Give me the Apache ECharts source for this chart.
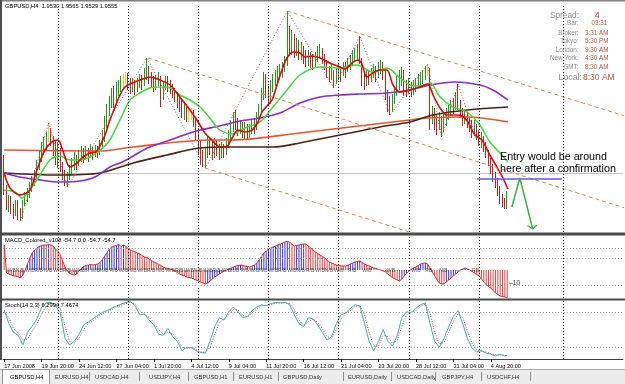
<!DOCTYPE html>
<html><head><meta charset="utf-8">
<script src="https://cdn.jsdelivr.net/npm/echarts@6/dist/echarts.min.js"></script>
<style>html,body{margin:0;padding:0;background:#fff;}#c{width:625px;height:384px;}</style>
</head><body><div id="c"></div>
<script>
// ---------------- DATA ----------------
const firstOpen = 1.9627;
const closes = [1.9567,1.9537,1.9551,1.9531,1.9519,1.9541,1.9523,1.9515,1.9539,1.9551,
1.9555,1.9571,1.9581,1.9595,1.9611,1.9631,1.9647,1.9655,1.9671,1.9681,
1.9667,1.9651,1.9631,1.9647,1.9615,1.9597,1.9583,1.9595,1.9607,1.9615,
1.9627,1.9619,1.9633,1.9641,1.9631,1.9643,1.9637,1.9647,1.9639,1.9647,
1.9643,1.9655,1.9671,1.9697,1.9723,1.9739,1.9755,1.9747,1.9767,1.9775,
1.9783,1.9789,1.9791,1.9783,1.9771,1.9779,1.9767,1.9777,1.9787,1.9781,
1.9795,1.9807,1.9791,1.9783,1.9775,1.9787,1.9791,1.9755,1.9775,1.9787,
1.9779,1.9771,1.9763,1.9755,1.9747,1.9737,1.9727,1.9731,1.9719,1.9715,
1.9721,1.9707,1.9687,1.9657,1.9631,1.9623,1.9643,1.9657,1.9651,1.9639,
1.9655,1.9647,1.9637,1.9651,1.9643,1.9657,1.9671,1.9691,1.9707,1.9699,
1.9687,1.9695,1.9683,1.9691,1.9679,1.9687,1.9695,1.9691,1.9711,1.9723,
1.9757,1.9795,1.9767,1.9747,1.9771,1.9783,1.9791,1.9799,1.9803,1.9811,
1.9819,1.9879,1.9851,1.9867,1.9843,1.9857,1.9837,1.9847,1.9831,1.9823,
1.9835,1.9827,1.9819,1.9831,1.9843,1.9847,1.9831,1.9819,1.9807,1.9795,
1.9803,1.9787,1.9795,1.9803,1.9799,1.9811,1.9807,1.9819,1.9823,1.9831,
1.9837,1.9843,1.9827,1.9791,1.9779,1.9795,1.9787,1.9799,1.9807,1.9795,
1.9807,1.9815,1.9803,1.9763,1.9739,1.9731,1.9747,1.9763,1.9779,1.9787,
1.9799,1.9775,1.9767,1.9779,1.9763,1.9771,1.9779,1.9787,1.9791,1.9795,
1.9803,1.9807,1.9707,1.9723,1.9703,1.9691,1.9711,1.9687,1.9703,1.9715,
1.9723,1.9735,1.9731,1.9747,1.9739,1.9723,1.9711,1.9717,1.9703,1.9695,
1.9687,1.9695,1.9679,1.9667,1.9671,1.9655,1.9643,1.9627,1.9611,1.9595,
1.9583,1.9567,1.9551,1.9539,1.9530,1.9555];
const highs = [1.9637,1.9577,1.9557,1.9555,1.9539,1.9547,1.9547,1.9531,1.9547,1.9563,
1.9571,1.9583,1.9595,1.9607,1.9627,1.9647,1.9663,1.9673,1.9683,1.9701,
1.9691,1.9675,1.9667,1.9663,1.9651,1.9623,1.9607,1.9603,1.9617,1.9631,
1.9643,1.9637,1.9647,1.9655,1.9651,1.9655,1.9651,1.9659,1.9653,1.9657,
1.9655,1.9667,1.9687,1.9715,1.9739,1.9755,1.9771,1.9775,1.9783,1.9787,
1.9795,1.9799,1.9803,1.9801,1.9791,1.9791,1.9787,1.9791,1.9799,1.9797,
1.9811,1.9831,1.9815,1.9803,1.9795,1.9797,1.9803,1.9795,1.9783,1.9795,
1.9795,1.9787,1.9779,1.9771,1.9763,1.9755,1.9747,1.9743,1.9739,1.9731,
1.9731,1.9727,1.9711,1.9691,1.9667,1.9647,1.9651,1.9675,1.9671,1.9663,
1.9671,1.9667,1.9659,1.9663,1.9659,1.9671,1.9687,1.9707,1.9723,1.9727,
1.9711,1.9707,1.9703,1.9703,1.9699,1.9699,1.9707,1.9711,1.9723,1.9739,
1.9771,1.9803,1.9799,1.9775,1.9787,1.9799,1.9807,1.9815,1.9819,1.9823,
1.9835,1.9925,1.9895,1.9887,1.9879,1.9871,1.9867,1.9863,1.9855,1.9847,
1.9847,1.9843,1.9839,1.9843,1.9855,1.9859,1.9851,1.9839,1.9827,1.9815,
1.9819,1.9807,1.9811,1.9819,1.9815,1.9823,1.9823,1.9831,1.9837,1.9847,
1.9851,1.9859,1.9875,1.9831,1.9803,1.9807,1.9807,1.9811,1.9819,1.9815,
1.9823,1.9827,1.9823,1.9807,1.9767,1.9755,1.9759,1.9775,1.9795,1.9807,
1.9813,1.9807,1.9787,1.9791,1.9783,1.9787,1.9791,1.9799,1.9803,1.9807,
1.9815,1.9819,1.9811,1.9735,1.9731,1.9717,1.9723,1.9715,1.9719,1.9731,
1.9739,1.9747,1.9751,1.9763,1.9779,1.9747,1.9731,1.9727,1.9723,1.9711,
1.9707,1.9707,1.9699,1.9687,1.9683,1.9675,1.9663,1.9647,1.9631,1.9619,
1.9603,1.9591,1.9575,1.9559,1.9551,1.9565];
const lows = [1.9557,1.9527,1.9523,1.9519,1.9509,1.9515,1.9507,1.9505,1.9509,1.9535,
1.9543,1.9551,1.9563,1.9575,1.9587,1.9607,1.9623,1.9637,1.9647,1.9663,
1.9655,1.9635,1.9617,1.9611,1.9603,1.9587,1.9575,1.9573,1.9587,1.9599,
1.9607,1.9607,1.9615,1.9623,1.9621,1.9627,1.9623,1.9631,1.9627,1.9633,
1.9631,1.9637,1.9651,1.9663,1.9691,1.9715,1.9731,1.9731,1.9739,1.9755,
1.9763,1.9771,1.9779,1.9767,1.9759,1.9763,1.9757,1.9763,1.9771,1.9767,
1.9775,1.9787,1.9779,1.9771,1.9763,1.9767,1.9775,1.9733,1.9747,1.9767,
1.9763,1.9759,1.9751,1.9743,1.9731,1.9723,1.9711,1.9707,1.9703,1.9703,
1.9707,1.9693,1.9667,1.9637,1.9617,1.9613,1.9611,1.9631,1.9637,1.9627,
1.9631,1.9635,1.9627,1.9631,1.9631,1.9637,1.9651,1.9667,1.9683,1.9687,
1.9675,1.9679,1.9671,1.9667,1.9667,1.9671,1.9679,1.9679,1.9687,1.9703,
1.9719,1.9747,1.9751,1.9735,1.9739,1.9763,1.9775,1.9779,1.9787,1.9791,
1.9803,1.9815,1.9835,1.9837,1.9831,1.9835,1.9827,1.9827,1.9819,1.9813,
1.9815,1.9811,1.9807,1.9811,1.9823,1.9831,1.9819,1.9807,1.9791,1.9783,
1.9787,1.9771,1.9779,1.9787,1.9783,1.9795,1.9791,1.9803,1.9807,1.9815,
1.9823,1.9827,1.9819,1.9775,1.9767,1.9775,1.9777,1.9783,1.9791,1.9783,
1.9791,1.9799,1.9787,1.9747,1.9723,1.9717,1.9723,1.9739,1.9755,1.9767,
1.9775,1.9755,1.9753,1.9759,1.9753,1.9757,1.9763,1.9771,1.9775,1.9779,
1.9787,1.9795,1.9687,1.9699,1.9687,1.9677,1.9687,1.9673,1.9683,1.9695,
1.9707,1.9715,1.9719,1.9727,1.9727,1.9711,1.9695,1.9699,1.9691,1.9683,
1.9671,1.9675,1.9667,1.9655,1.9651,1.9643,1.9631,1.9615,1.9599,1.9583,
1.9571,1.9555,1.9539,1.9533,1.9529,1.9529];
const yellowBars = [19, 51, 52, 79, 80, 181];
const bidPrice = 1.9555;

const tickLabels = ['17 Jun 2008','19 Jun 20:00','24 Jun 12:00','27 Jun 04:00','1 Jul 20:00','4 Jul 12:00','9 Jul 04:00','11 Jul 20:00','16 Jul 12:00','21 Jul 04:00','23 Jul 20:00','28 Jul 12:00','31 Jul 04:00','4 Aug 20:00'];
const gridBars = [23, 53, 83, 113, 143, 173, 203, 239];

// moving averages as [bar, price]
const redMA = [[0,1.9601],[2.5,1.9571],[6.8,1.9557],[11,1.9567],[14,1.9607],[17.4,1.9647],[20.4,1.9663],[23,1.9667],[24.7,1.9651],[26.4,1.9627],[28.1,1.9613],[31.1,1.9621],[33.7,1.9633],[36.7,1.9641],[39.2,1.9643],[40.9,1.9655],[43.1,1.9677],[45.2,1.9707],[47.4,1.9733],[49.5,1.9757],[51.6,1.9773],[53.8,1.9779],[58,1.9787],[62.3,1.9793],[66.6,1.9787],[70.9,1.9777],[75.1,1.9753],[79.4,1.9727],[82.4,1.9707],[85.8,1.9681],[88.8,1.9667],[92.2,1.9653],[94.8,1.9653],[97.4,1.9671],[99.9,1.9687],[102.9,1.9683],[105.9,1.9687],[108.5,1.9703],[110.2,1.9723],[112.3,1.9735],[114.5,1.9747],[116.6,1.9777],[118.7,1.9807],[120.9,1.9831],[123.4,1.9843],[126.4,1.9841],[128.6,1.9833],[131.6,1.9835],[135,1.9831],[139.2,1.9821],[143.5,1.9813],[145.7,1.9809],[148.7,1.9821],[151.2,1.9827],[152.9,1.9819],[155,1.9793],[157.6,1.9801],[160.6,1.9807],[163.6,1.9807],[166.2,1.9777],[169.2,1.9763],[173.4,1.9767],[177.7,1.9773],[181.1,1.9779],[183.3,1.9757],[186.3,1.9731],[189.2,1.9717],[192.7,1.9717],[195.7,1.9715],[198.2,1.9703],[201.2,1.9677],[204.2,1.9667],[207.6,1.9637],[210.6,1.9613],[213.2,1.9591],[215.3,1.9569]];
const greenMA = [[0,1.9567],[4.6,1.9563],[7.6,1.9551],[11,1.9567],[15.3,1.9597],[19.6,1.9627],[23.9,1.9635],[28.1,1.9627],[32.4,1.9627],[36.7,1.9633],[40.1,1.9643],[43.1,1.9655],[45.2,1.9667],[47.4,1.9687],[49.5,1.9707],[53.8,1.9747],[58,1.9761],[62.3,1.9771],[66.6,1.9773],[70.9,1.9771],[75.1,1.9757],[79.4,1.9747],[83.7,1.9733],[87.9,1.9711],[92.2,1.9687],[97.8,1.9679],[102.9,1.9691],[109.3,1.9703],[114.9,1.9733],[120.9,1.9767],[126.4,1.9797],[135,1.9813],[143.5,1.9811],[150.8,1.9817],[157.6,1.9803],[163.6,1.9811],[169.2,1.9791],[173.4,1.9777],[177.7,1.9775],[182,1.9781],[186.3,1.9753],[191.8,1.9733],[197.8,1.9723],[203.3,1.9697],[207.6,1.9663],[211.9,1.9641],[215.3,1.9623]];
const purpleMA = [[0,1.9601],[6.8,1.9593],[15.3,1.9587],[23.9,1.9583],[32.4,1.9585],[38.8,1.9593],[45.2,1.9613],[49.5,1.9621],[53.8,1.9631],[58,1.9643],[62.3,1.9653],[70.9,1.9667],[79.4,1.9681],[83.7,1.9687],[92.2,1.9695],[100.8,1.9705],[109.3,1.9711],[117.9,1.9721],[126.4,1.9741],[135,1.9753],[143.5,1.9757],[152,1.9759],[163.6,1.9761],[173.4,1.9767],[182,1.9777],[192.7,1.9783],[203.3,1.9777],[208.9,1.9767],[215.3,1.9747]];
const brownMA = [[0,1.9601],[22.6,1.9597],[40.9,1.9601],[55.1,1.9621],[69.6,1.9637],[83.7,1.9651],[97.8,1.9653],[114.9,1.9653],[126.4,1.9661],[143.5,1.9677],[160.6,1.9693],[173.4,1.9703],[183.3,1.9717],[197.8,1.9727],[215.3,1.9733]];
const orangeMA = [[0,1.9647],[40.9,1.9645],[55.1,1.9653],[87.9,1.9667],[97.8,1.9667],[126.4,1.9681],[173.4,1.9707],[180.7,1.9711],[197.8,1.9713],[215.3,1.9703]];

// drawn objects
const zigzag = [[7,1.9505],[19,1.9701],[27,1.9573],[61,1.9831],[86,1.9611],[121,1.9925],[141,1.9771],[152,1.9875],[165,1.9717],[181,1.9819],[187,1.9673],[194,1.9779],[202,1.9667]];
const channelUpper = [[120.9,1.9925],[265.3,1.9715]];
const channelMiddle = [[61.5,1.9831],[265.3,1.9531]];
const channelLower = [[85.8,1.9611],[265.3,1.9348]];
const entryLine = [[202.1,1.9589],[238.4,1.9589]];
const arrowPath = [[217,1.9533],[220.4,1.9591],[225.9,1.9489]];
const arrowHead = [[223.7,1.9496],[225.9,1.9489],[227.6,1.9497]];

// MACD histogram, one per bar
const macdHist = [50,-6,-8,-10,-12,-12,-14,-16,-10,0,
12,24,34,40,44,47,49,50,50,51,
50,48,42,37,30,18,6,-2,-7,-9,
-10,-8,-2,3,7,9,10,11,10,11,
12,15,21,28,35,42,46,48,49,51,
47,50,47,43,40,38,36,34,32,29,
26,25,22,19,16,14,11,9,6,4,
3,2,0,-2,-5,-8,-10,-12,-14,-15,
-16,-18,-20,-22,-24,-26,-28,-26,-22,-18,
-14,-11,-8,-5,-2,0,2,4,6,8,
9,10,9,8,7,6,8,10,14,20,
27,34,38,42,44,46,48,50,52,54,
56,57,56,52,48,49,50,51,52,52,
48,44,40,36,33,30,27,24,20,16,
14,12,10,9,8,8,8,10,12,14,
16,17,18,15,12,10,8,6,4,3,
1,0,-2,-4,-8,-12,-15,-18,-20,-22,
-18,-12,-7,-2,1,4,6,9,12,13,
14,12,4,-4,-12,-20,-26,-28,-28,-24,
-20,-16,-12,-8,-4,0,2,4,2,0,
-3,-6,-9,-12,-18,-24,-29,-33,-36,-41,
-46,-49,-52,-53,-54,-54.7];
const macdLevels = [44, 24, -30];
// small text tags the indicator prints along the zero line
const macdTags = [[1,'W/B'],[5,'N/B'],[9,'W/B'],[13,'R/B'],[17,'N/B'],[21,'W/B'],[25,'R/B'],[29,'W/N'],[33,'B/R'],[37,'W/B'],[41,'N/B'],[45,'R/B'],[49,'W/B'],[53,'N/B'],[57,'W/B'],[61,'R/B'],[65,'N/B'],[69,'W/B'],[73,'R/B'],[77,'W/B'],[81,'N/B'],[85,'W/B'],[89,'R/B'],[93,'W/B'],[97,'N/B'],[101,'R/B'],[105,'W/B'],[109,'N/B'],[113,'W/B'],[117,'R/B'],[121,'W/B'],[125,'N/B'],[129,'R/B'],[133,'W/B'],[137,'N/B'],[141,'W/B'],[147,'R/B'],[153,'W/B'],[163,'W/B'],[174,'W/B'],[180,'RB'],[186,'N/B'],[200,'RB']];
const macdLastLabel = '10';

// Stochastic (main and signal) as [bar, value]
const stochMain = [[0,83],[2,60],[4,45],[6,40],[8,24],[10,45],[12,56],[14,68],[16,88],[18,95],[20,96],[22,90],[24,78],[26,35],[28,24],[30,30],[32,42],[34,58],[36,63],[38,68],[40,74],[42,79],[44,82],[46,86],[48,90],[50,93],[52,96],[54,97],[56,90],[58,75],[60,76],[62,66],[64,58],[66,42],[68,40],[70,52],[72,38],[74,30],[76,14],[78,20],[80,19],[82,14],[84,11],[86,10],[88,30],[90,55],[92,70],[94,66],[96,80],[98,88],[100,80],[102,70],[104,72],[106,82],[108,88],[110,92],[112,90],[114,94],[116,96],[118,95],[120,96],[122,92],[124,75],[126,60],[128,55],[130,70],[132,68],[134,58],[136,45],[138,32],[140,38],[142,60],[144,75],[146,78],[148,86],[150,92],[152,90],[154,60],[156,30],[158,14],[160,30],[162,50],[164,30],[166,22],[168,40],[170,70],[172,80],[174,78],[176,86],[178,92],[180,95],[182,60],[184,30],[186,20],[188,35],[190,55],[192,72],[194,82],[196,60],[198,35],[200,18],[202,12],[204,14],[206,10],[208,8],[210,5],[212,8],[214,5],[215,6.3]];
const stochSignal = [[0,80],[2,70],[4,52],[6,44],[8,32],[10,34],[12,48],[14,60],[16,76],[18,90],[20,95],[22,93],[24,85],[26,55],[28,30],[30,27],[32,36],[34,50],[36,60],[38,65],[40,71],[42,77],[44,80],[46,84],[48,88],[50,91],[52,94],[54,96],[56,93],[58,82],[60,76],[62,70],[64,62],[66,50],[68,42],[70,46],[72,43],[74,34],[76,20],[78,18],[80,19],[82,16],[84,12],[86,11],[88,20],[90,42],[92,62],[94,68],[96,75],[98,84],[100,83],[102,74],[104,71],[106,78],[108,85],[110,90],[112,91],[114,92],[116,95],[118,95],[120,95],[122,94],[124,84],[126,66],[128,57],[130,63],[132,68],[134,62],[136,51],[138,38],[140,35],[142,50],[144,68],[146,77],[148,82],[150,89],[152,91],[154,75],[156,45],[158,22],[160,22],[162,40],[164,38],[166,26],[168,32],[170,56],[172,75],[174,79],[176,82],[178,89],[180,93],[182,78],[184,45],[186,25],[188,28],[190,45],[192,64],[194,77],[196,70],[198,48],[200,26],[202,15],[204,13],[206,12],[208,9],[210,7],[212,7],[214,6],[215,7.5]];
const stochLevels = [20, 80];

const tabNames = ['GBPUSD,H4','EURUSD,H4','USDCAD,H4','USDJPY,H4','GBPUSD,H1','EURUSD,H1','GBPUSD,Daily','EURUSD,Daily','USDCAD,Daily','GBPJPY,H4','USDCHF,H4'];

// ---------------- CHART ----------------
const FONT = '"Liberation Sans", Arial, sans-serif';
const N = 265;
const cats = Array.from({length: N}, (_, i) => String(i));

const candleData = closes.map((c, i) => {
  const o = i === 0 ? firstOpen : closes[i - 1];
  const item = {value: [o, c, lows[i], highs[i]]};
  if (yellowBars.includes(i)) {
    item.itemStyle = {color: '#EFD85A', color0: '#EFD85A', borderColor: '#E8CF40', borderColor0: '#E8CF40'};
  }
  return item;
});
const macdData = macdHist.map((v, i) => ({
  value: v,
  itemStyle: {color: (i > 0 && v > macdHist[i - 1]) ? '#3434C8' : '#E04848'}
}));

const vGrid = {
  silent: true, symbol: 'none', label: {show: false}, animation: false,
  lineStyle: {color: '#000', type: [1, 2], width: 1},
  data: gridBars.map(b => ({xAxis: b}))
};
const levelLines = (levels) => ({
  silent: true, symbol: 'none', label: {show: false}, animation: false,
  lineStyle: {color: '#9a9a9a', type: [1, 2], width: 1},
  data: levels.map(v => ({yAxis: v}))
});

const L = (data, color, width, extra) => Object.assign({
  type: 'line', xAxisIndex: 1, yAxisIndex: 0, data, symbol: 'none', silent: true,
  animation: false, z: 4, lineStyle: {color, width}
}, extra || {});

const tickShow = (i) => i % 16 === 0 && i / 16 < tickLabels.length;

const graphic = [];
graphic.push({type: 'rect', shape: {x: 0, y: 0, width: 625, height: 1.5}, style: {fill: '#808080'}, z: 100});
graphic.push({type: 'rect', shape: {x: 0, y: 0, width: 2, height: 360}, style: {fill: '#505050'}, z: 100});
graphic.push({type: 'rect', shape: {x: 0, y: 232.5, width: 625, height: 3}, style: {fill: '#4a4a4a'}, z: 100});
graphic.push({type: 'rect', shape: {x: 0, y: 298.5, width: 625, height: 2}, style: {fill: '#4a4a4a'}, z: 100});
const txt = (x, y, text, size, color, align, weight) => ({
  type: 'text', x, y, z: 101, silent: true,
  style: {text, fill: color || '#000', font: (weight || 'normal') + ' ' + size + 'px ' + FONT,
          textAlign: align || 'left', textVerticalAlign: 'middle', align: align || 'left', verticalAlign: 'middle'}
});
graphic.push(txt(5, 6.5, 'GBPUSD,H4  1.9530 1.9565 1.9529 1.9555', 5.8));
graphic.push(txt(5, 240.5, 'MACD_Colored_v108 -54.7 0.0 -54.7 -54.7', 5.8));
graphic.push(txt(5, 305, 'Stoch(14,3,3) 6.2994 7.4674', 5.8));
graphic.push(txt(500, 157, 'Entry would be around', 10.7, '#000'));
graphic.push(txt(500, 169, 'here after a confirmation', 10.7, '#000'));
const LBL = '#8a8a8a', VAL = '#B2533C';
graphic.push(txt(579, 15.3, 'Spread:', 8.3, LBL, 'right'));
graphic.push(txt(595, 15.3, '4', 8.3, '#C83030'));
const infoRows = [['Bar:', '03:31', 23.3, 591.5], ['Broker:', '3:31 AM', 32.8, 585], ['Tokyo:', '5:30 PM', 41.5, 585],
  ['London:', '9:30 AM', 49.8, 585], ['New York:', '4:30 AM', 58.3, 585], ['GMT:', '8:30 AM', 66.8, 585]];
infoRows.forEach(r => { graphic.push(txt(578.5, r[2], r[0], 6.3, LBL, 'right')); graphic.push(txt(r[3], r[2], r[1], 6.3, VAL)); });
graphic.push(txt(582, 78, 'Local:', 8.8, LBL, 'right'));
graphic.push(txt(583, 78, '8:30 AM', 8.5, VAL));
graphic.push({type: 'rect', shape: {x: 0, y: 369, width: 625, height: 15}, style: {fill: '#ECECEC'}, z: 100});
graphic.push({type: 'line', shape: {x1: 0, y1: 369.5, x2: 625, y2: 369.5}, style: {stroke: '#A8A8A8', lineWidth: 1}, z: 101});
graphic.push({type: 'rect', shape: {x: 2.5, y: 369.5, width: 47, height: 15}, style: {fill: '#fff', stroke: '#909090', lineWidth: 1}, z: 101});
const tabX = [10, 55, 95, 149, 194, 239, 283, 348, 397, 442, 487];
const sepX = [89, 139, 188, 233, 278, 343, 391, 435, 481, 530];
tabNames.forEach((n, i) => graphic.push(txt(tabX[i], 377, n, 5.8, i === 0 ? '#000' : '#333')));
sepX.forEach(x => graphic.push({type: 'line', shape: {x1: x + 0.5, y1: 372, x2: x + 0.5, y2: 381}, style: {stroke: '#8a8a8a', lineWidth: 1}, z: 101}));

const option = {
  backgroundColor: '#fff',
  animation: false,
  graphic,
  grid: [
    {left: 3, right: 2, top: 4, height: 228},
    {left: 3, right: 2, top: 236, height: 62},
    {left: 3, right: 2, top: 300, height: 59}
  ],
  xAxis: [
    {type: 'category', gridIndex: 0, data: cats, show: false},
    {type: 'value', gridIndex: 0, min: -0.5, max: N - 0.5, show: false},
    {type: 'category', gridIndex: 1, data: cats, show: false},
    {type: 'value', gridIndex: 1, min: -0.5, max: N - 0.5, show: false},
    {type: 'category', gridIndex: 2, data: cats,
      axisLine: {show: true, lineStyle: {color: '#404040', width: 1}},
      axisTick: {show: true, alignWithLabel: true, interval: tickShow, length: 3, lineStyle: {color: '#000'}},
      axisLabel: {show: true, interval: tickShow, formatter: (v, i) => tickLabels[i / 16] || '',
        fontSize: 5.6, fontFamily: FONT, color: '#000', align: 'left', margin: 4}},
    {type: 'value', gridIndex: 2, min: -0.5, max: N - 0.5, show: false}
  ],
  yAxis: [
    {type: 'value', gridIndex: 0, min: 1.9483, max: 1.9939, show: false},
    {type: 'value', gridIndex: 1, min: -56, max: 68, show: false},
    {type: 'value', gridIndex: 2, min: 0, max: 100, show: false}
  ],
  series: [
    {type: 'line', xAxisIndex: 1, yAxisIndex: 0, data: [[-50, 1.97]], symbol: 'none', z: 1, markLine: vGrid},
    {type: 'candlestick', xAxisIndex: 0, yAxisIndex: 0, data: candleData, barWidth: 1, z: 3, silent: true,
      itemStyle: {color: '#16A016', color0: '#C81E1E', borderColor: '#16A016', borderColor0: '#C81E1E', borderWidth: 1},
      markLine: {silent: true, symbol: 'none', label: {show: false}, z: 2,
        lineStyle: {color: '#C4C4C4', type: 'solid', width: 1}, data: [{yAxis: bidPrice}]}},
    L(orangeMA, '#E8552C', 1.6, {smooth: 0.3}),
    L(brownMA, '#4A2412', 1.6, {smooth: 0.3}),
    L(purpleMA, '#8C2CCC', 1.6, {smooth: 0.3}),
    L(greenMA, '#3CDC3C', 1.5, {smooth: 0.3}),
    L(redMA, '#DC0A0A', 1.6, {smooth: 0.3}),
    L(zigzag, '#C05050', 1, {lineStyle: {color: '#C05050', width: 1, type: [1, 2]}}),
    L(channelUpper, '#EE8055', 1, {lineStyle: {color: '#EE8055', width: 1, type: [4, 3]}}),
    L(channelMiddle, '#EE8055', 1, {lineStyle: {color: '#EE8055', width: 1, type: [4, 3]}}),
    L(channelLower, '#EE8055', 1, {lineStyle: {color: '#EE8055', width: 1, type: [4, 3]}}),
    L(entryLine, '#5A5AEE', 1.5),
    L(arrowPath, '#3DB03D', 1.5),
    L(arrowHead, '#3DB03D', 1.5),
    // MACD panel
    {type: 'line', xAxisIndex: 3, yAxisIndex: 1, data: [[-50, 0]], symbol: 'none', z: 1, markLine: vGrid},
    {type: 'line', xAxisIndex: 3, yAxisIndex: 1, data: [[-50, 0]], symbol: 'none', z: 1, markLine: levelLines(macdLevels)},
    {type: 'bar', xAxisIndex: 2, yAxisIndex: 1, data: macdData, barWidth: 1, silent: true, z: 3},
    {type: 'line', xAxisIndex: 2, yAxisIndex: 1, data: macdHist, symbol: 'none', silent: true, z: 4,
      lineStyle: {color: '#E02828', width: 1}},
    {type: 'scatter', xAxisIndex: 3, yAxisIndex: 1, symbolSize: 0, silent: true, z: 5,
      data: macdTags.map(t => [t[0], -2, t[1]]),
      label: {show: true, position: 'right', distance: 0, formatter: p => p.data[2],
        fontSize: 5, fontFamily: FONT, color: '#2a2a2a'}},
    {type: 'scatter', xAxisIndex: 3, yAxisIndex: 1, symbolSize: 0, silent: true, z: 5,
      data: [[215, -27, macdLastLabel]],
      label: {show: true, position: 'right', distance: 2, formatter: p => '\u2013' + p.data[2],
        fontSize: 6.5, fontFamily: FONT, color: '#000'}},
    // Stochastic panel
    {type: 'line', xAxisIndex: 5, yAxisIndex: 2, data: [[-50, 0]], symbol: 'none', z: 1, markLine: vGrid},
    {type: 'line', xAxisIndex: 5, yAxisIndex: 2, data: [[-50, 0]], symbol: 'none', z: 1, markLine: levelLines(stochLevels)},
    {type: 'line', xAxisIndex: 5, yAxisIndex: 2, data: stochSignal, symbol: 'none', silent: true, z: 3,
      lineStyle: {color: '#E03030', width: 1, type: [1, 1.5]}},
    {type: 'line', xAxisIndex: 5, yAxisIndex: 2, data: stochMain, symbol: 'none', silent: true, z: 4,
      lineStyle: {color: '#3AAFAF', width: 1}}
  ]
};
const chart = echarts.init(document.getElementById('c'), null, {renderer: 'canvas', width: 625, height: 384});
chart.setOption(option);
</script></body></html>
